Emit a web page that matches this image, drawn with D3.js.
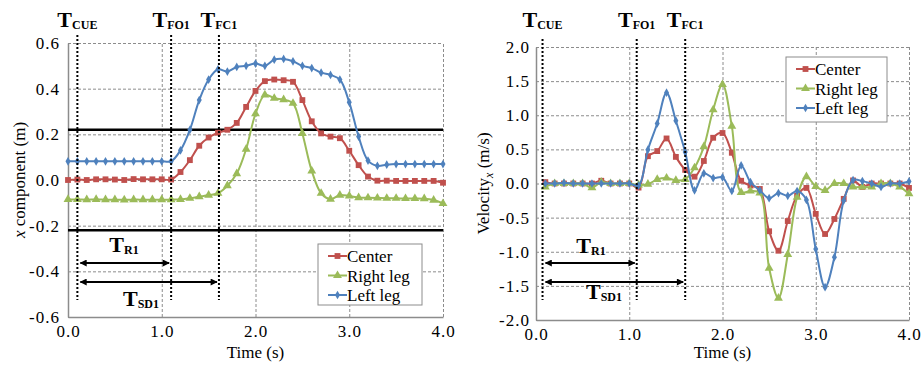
<!DOCTYPE html>
<html>
<head>
<meta charset="utf-8">
<script src="https://cdn.jsdelivr.net/npm/d3@7"></script>
<style>
  body { margin: 0; background: #fff; }
  svg, svg text { font-family: "Liberation Serif", "Times New Roman", serif; }
  svg { display: block; }
</style>
</head>
<body>
<div id="chart-area"></div>
<script>
// ---- data ----
var seriesNames = ["Center", "Right leg", "Left leg"]
var seriesColors = ["#C0504D", "#9BBB59", "#4F81BD"]
var seriesSymbols = [d3.symbolSquare, d3.symbolTriangle, d3.symbolDiamond]

// position, sampled every 0.1 s from 0.0 to 4.0
var posTime = [0.0, 0.1, 0.2, 0.3, 0.4, 0.5, 0.6, 0.7, 0.8, 0.9, 1.0,
               1.1, 1.2, 1.3, 1.4, 1.5, 1.6, 1.7, 1.8, 1.9, 2.0,
               2.1, 2.2, 2.3, 2.4, 2.5, 2.6, 2.7, 2.8, 2.9, 3.0,
               3.1, 3.2, 3.3, 3.4, 3.5, 3.6, 3.7, 3.8, 3.9, 4.0]
var posCenter = [0.0, 0.002, 0.0, 0.003, 0.003, 0.002, 0.0, 0.004, 0.003, 0.003, 0.003,
                 0.002, 0.035, 0.087, 0.15, 0.186, 0.207, 0.22, 0.25, 0.32, 0.39,
                 0.433, 0.44, 0.437, 0.43, 0.35, 0.257, 0.204, 0.19, 0.183, 0.128,
                 0.065, 0.015, -0.003, -0.003, -0.004, -0.004, -0.004, -0.004, -0.004, -0.012]
var posRight = [-0.085, -0.085, -0.086, -0.085, -0.086, -0.086, -0.087, -0.086, -0.086, -0.086, -0.086,
                -0.086, -0.085, -0.08, -0.073, -0.066, -0.058, -0.025, 0.028, 0.135, 0.29,
                0.373, 0.358, 0.352, 0.336, 0.204, 0.04, -0.058, -0.084, -0.066, -0.07,
                -0.077, -0.078, -0.079, -0.08, -0.08, -0.081, -0.081, -0.082, -0.088, -0.103]
var posLeft = [0.082, 0.082, 0.082, 0.082, 0.082, 0.082, 0.082, 0.082, 0.082, 0.082, 0.082,
               0.082, 0.13, 0.22, 0.35, 0.44, 0.485, 0.475, 0.495, 0.50, 0.51,
               0.50, 0.527, 0.53, 0.52, 0.50, 0.49, 0.47, 0.46, 0.44, 0.34,
               0.19, 0.085, 0.062, 0.067, 0.07, 0.07, 0.07, 0.07, 0.07, 0.07]

// velocity, sampled every 0.1 s from 0.1 to 4.0
var velTime = [0.1, 0.2, 0.3, 0.4, 0.5, 0.6, 0.7, 0.8, 0.9, 1.0,
               1.1, 1.2, 1.3, 1.4, 1.5, 1.6, 1.7, 1.8, 1.9, 2.0,
               2.1, 2.2, 2.3, 2.4, 2.5, 2.6, 2.7, 2.8, 2.9, 3.0,
               3.1, 3.2, 3.3, 3.4, 3.5, 3.6, 3.7, 3.8, 3.9, 4.0]
var velCenter = [0.02, 0, 0, 0, 0, 0, 0.04, 0, 0, 0,
                 -0.06, 0.4, 0.475, 0.66, 0.39, 0.2, 0.1, 0.33, 0.67, 0.74,
                 0.45, 0.04, -0.03, -0.08, -0.7, -0.985, -0.55, -0.18, -0.065, -0.445,
                 -0.74, -0.52, -0.225, 0.045, -0.05, 0, 0, 0, 0, -0.065]
var velRight = [-0.05, 0, 0, 0, 0, -0.06, 0.02, 0, 0, 0,
                -0.02, -0.01, 0.06, 0.08, 0.045, 0.06, 0.23, 0.54, 1.08, 1.45,
                0.84, -0.13, -0.11, -0.14, -1.24, -1.68, -1.04, -0.2, 0.10, -0.044,
                -0.1, 0.0, 0.0, -0.05, -0.05, -0.05, 0.0, 0.0, -0.05, -0.15]
var velLeft = [0, 0, 0.01, 0, 0, 0, 0, 0, 0, 0,
               -0.03, 0.495, 0.88, 1.33, 0.92, 0.46, -0.10, 0.15, 0.08, 0.09,
               -0.11, 0.265, 0.02, -0.1, -0.215, -0.14, -0.18, -0.11, -0.24, -0.96,
               -1.52, -1.08, -0.25, 0.05, 0.035, 0.0, -0.05, 0.0, 0.0, 0.03]

var xTicks = [0, 1, 2, 3, 4]
var posTicks = [-0.6, -0.4, -0.2, 0.0, 0.2, 0.4, 0.6]
var velTicks = [-2.0, -1.5, -1.0, -0.5, 0.0, 0.5, 1.0, 1.5, 2.0]
var eventNames = ["CUE", "FO1", "FC1"]
var posEvents = [0.1, 1.1, 1.61]
var velEvents = [0.07, 1.08, 1.6]
var posThreshold = [0.22, -0.22]

var svgWidth = 921
var svgHeight = 368

var svg = d3.select("#chart-area")
	.append("svg")
	.attr("width", svgWidth)
	.attr("height", svgHeight)

var defs = svg.append("defs")
defs.append("marker")
	.attr("id", "arrow")
	.attr("viewBox", "0 0 10 10")
	.attr("refX", 9).attr("refY", 5)
	.attr("markerWidth", 4).attr("markerHeight", 3.5)
	.attr("orient", "auto-start-reverse")
	.append("path")
	.attr("d", "M0,0 L10,5 L0,10 z")
	.attr("fill", "#000")

function panel(opt) {
	var g = svg.append("g")

	var x = d3.scaleLinear().domain([0, 4]).range([opt.left, opt.right])
	var y = d3.scaleLinear().domain(opt.yDomain).range([opt.bottom, opt.top])

	// grid
	g.append("g")
		.attr("transform", "translate(0," + opt.bottom + ")")
		.call(d3.axisBottom(x).tickValues(xTicks).tickSize(opt.top - opt.bottom).tickFormat(""))
		.call(function(a){ a.select(".domain").remove() })
		.selectAll("line").attr("stroke", "#8c8c8c").attr("stroke-dasharray", "3,2")
	g.append("g")
		.attr("transform", "translate(" + opt.left + ",0)")
		.call(d3.axisLeft(y).tickValues(opt.yTicks).tickSize(opt.left - opt.right).tickFormat(""))
		.call(function(a){ a.select(".domain").remove() })
		.selectAll("line").attr("stroke", "#8c8c8c").attr("stroke-dasharray", "3,2")

	// axes
	var ax = g.append("g")
		.attr("transform", "translate(0," + opt.bottom + ")")
		.call(d3.axisBottom(x).tickValues(xTicks).tickSize(0).tickPadding(8)
			.tickFormat(function(d){ return d.toFixed(1) }))
	ax.attr("font-family", null)
	ax.select(".domain").attr("stroke", "#8c8c8c").attr("stroke-width", 1.5)
	ax.selectAll("text").attr("font-size", 17).attr("letter-spacing", 1).attr("fill", "#000")

	var ay = g.append("g")
		.attr("transform", "translate(" + opt.left + ",0)")
		.call(d3.axisLeft(y).tickValues(opt.yTicks).tickSize(0).tickPadding(opt.yPad)
			.tickFormat(function(d){ return d.toFixed(1) }))
	ay.attr("font-family", null)
	ay.select(".domain").attr("stroke", "#8c8c8c").attr("stroke-width", 1.5)
	ay.selectAll("text").attr("font-size", 17).attr("letter-spacing", 1).attr("fill", "#000")

	// axis titles
	g.append("text")
		.attr("x", (opt.left + opt.right) / 2)
		.attr("y", 358)
		.attr("text-anchor", "middle")
		.attr("font-size", 17)
		.text("Time (s)")
	opt.yTitle(g.append("text")
		.attr("transform", "translate(" + opt.yTitleX + "," + ((opt.top + opt.bottom) / 2) + ") rotate(-90)")
		.attr("text-anchor", "middle")
		.attr("font-size", 17))

	// threshold lines
	if (opt.threshold) {
		g.selectAll(".thr").data(opt.threshold).enter()
			.append("line")
			.attr("x1", opt.left).attr("x2", opt.right)
			.attr("y1", function(d){ return y(d) })
			.attr("y2", function(d){ return y(d) })
			.attr("stroke", "#000")
			.attr("stroke-width", 2.5)
	}

	// series
	var line = d3.line()
		.x(function(d){ return x(d[0]) })
		.y(function(d){ return y(d[1]) })
		.curve(d3.curveCatmullRom.alpha(0.5))

	opt.series.forEach(function(vals, i){
		var pts = vals.map(function(v, j){ return [opt.time[j], v] })
		g.append("path")
			.datum(pts)
			.attr("d", line)
			.attr("fill", "none")
			.attr("stroke", seriesColors[i])
			.attr("stroke-width", 2)
		g.selectAll(".m" + i).data(pts).enter()
			.append("path")
			.attr("transform", function(d){ return "translate(" + x(d[0]) + "," + y(d[1]) + ")" })
			.attr("d", d3.symbol().type(seriesSymbols[i]).size(i === 2 ? 22 : 34))
			.attr("fill", seriesColors[i])
	})

	// event lines and labels
	opt.events.forEach(function(t, i){
		g.append("line")
			.attr("x1", x(t)).attr("x2", x(t))
			.attr("y1", opt.top - 8).attr("y2", opt.eventBottom)
			.attr("stroke", "#000")
			.attr("stroke-width", 2)
			.attr("stroke-dasharray", "2,2")
		var lab = g.append("text")
			.attr("x", x(t))
			.attr("y", 27)
			.attr("text-anchor", "middle")
			.attr("font-weight", "bold")
		lab.append("tspan").attr("font-size", 22).text("T")
		lab.append("tspan").attr("font-size", 12).attr("dy", 2).text(eventNames[i])
	})

	// interval arrows
	var spans = [
		{ name: "R1", from: opt.events[0], to: opt.events[1], y: opt.arrowY[0], labY: opt.labelY[0], labX: opt.labelX[0] },
		{ name: "SD1", from: opt.events[0], to: opt.events[2], y: opt.arrowY[1], labY: opt.labelY[1], labX: opt.labelX[1] }
	]
	spans.forEach(function(s){
		g.append("line")
			.attr("x1", x(s.from) + 3).attr("x2", x(s.to) - 2)
			.attr("y1", s.y).attr("y2", s.y)
			.attr("stroke", "#000")
			.attr("stroke-width", 2)
			.attr("marker-start", "url(#arrow)")
			.attr("marker-end", "url(#arrow)")
		var lab = g.append("text")
			.attr("x", s.labX)
			.attr("y", s.labY)
			.attr("text-anchor", "middle")
			.attr("font-weight", "bold")
		lab.append("tspan").attr("font-size", 22).text("T")
		lab.append("tspan").attr("font-size", 12).attr("dy", 2).text(s.name)
	})

	// legend
	var lg = g.append("g").attr("transform", "translate(" + opt.legend[0] + "," + opt.legend[1] + ")")
	lg.append("rect")
		.attr("width", opt.legend[2]).attr("height", opt.legend[3])
		.attr("fill", "#fff")
		.attr("stroke", "#8c8c8c")
	seriesNames.forEach(function(name, i){
		var ly = 12 + i * 19.5
		lg.append("line")
			.attr("x1", 10).attr("x2", 29)
			.attr("y1", ly).attr("y2", ly)
			.attr("stroke", seriesColors[i])
			.attr("stroke-width", 2)
		lg.append("path")
			.attr("transform", "translate(19.5," + ly + ")")
			.attr("d", d3.symbol().type(seriesSymbols[i]).size(i === 2 ? 22 : 34))
			.attr("fill", seriesColors[i])
		lg.append("text")
			.attr("x", 29).attr("y", ly + 6)
			.attr("font-size", 17)
			.text(name)
	})
}

panel({
	left: 68, right: 443, top: 43, bottom: 317,
	yDomain: [-0.6, 0.6], yTicks: posTicks, yPad: 8,
	time: posTime, series: [posCenter, posRight, posLeft],
	threshold: posThreshold,
	events: posEvents, eventBottom: 300,
	arrowY: [263, 282], labelX: [124, 141], labelY: [252, 306],
	legend: [318, 244, 104, 61],
	yTitleX: 25,
	yTitle: function(t){
		t.append("tspan").attr("font-style", "italic").text("x")
		t.append("tspan").text(" component (m)")
	}
})

panel({
	left: 536, right: 909, top: 47, bottom: 320,
	yDomain: [-2, 2], yTicks: velTicks, yPad: 6,
	time: velTime, series: [velCenter, velRight, velLeft],
	threshold: null,
	events: velEvents, eventBottom: 300,
	arrowY: [263, 282], labelX: [591, 604], labelY: [253, 299],
	legend: [786, 57, 101, 65],
	yTitleX: 489,
	yTitle: function(t){
		t.append("tspan").text("Velocity")
		t.append("tspan").attr("font-style", "italic").attr("font-size", 12).attr("dy", 4).text("x")
		t.append("tspan").attr("dy", -4).text(" (m/s)")
	}
})
</script>
</body>
</html>
